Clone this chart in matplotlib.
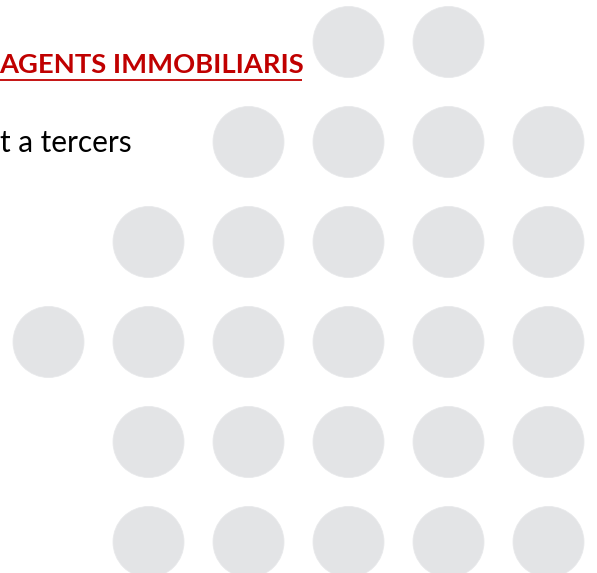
import matplotlib
matplotlib.use("Agg")
import matplotlib.pyplot as plt
from matplotlib.patches import Circle

# Dot grid: column indices present in each row
row_columns = [
    [3, 4],
    [2, 3, 4, 5],
    [1, 2, 3, 4, 5],
    [0, 1, 2, 3, 4, 5],
    [1, 2, 3, 4, 5],
    [1, 2, 3, 4, 5],
]
title_text = "AGENTS IMMOBILIARIS"
body_text = "t a tercers"

W, H = 597, 573
fig = plt.figure(figsize=(W / 100, H / 100), dpi=100)
ax = fig.add_axes([0, 0, 1, 1])
ax.set_xlim(0, W)
ax.set_ylim(H, 0)
ax.axis("off")

x0, y0, pitch, radius = 48.5, 42, 100, 35.5
dot_color = "#E3E4E6"
for r, cols in enumerate(row_columns):
    for c in cols:
        ax.add_patch(Circle((x0 + pitch * c, y0 + pitch * r), radius,
                            facecolor=dot_color, edgecolor="#E8E9EB", lw=0.6))

def fit_text(txt, x, y, target_w, **kw):
    t = ax.text(x, y, txt, **kw)
    fig.canvas.draw()
    r = fig.canvas.get_renderer()
    w = t.get_window_extent(r).width
    t.set_fontsize(t.get_fontsize() * target_w / w)
    return t

red = "#C00000"
fit_text(title_text, -1, 73, 303, fontsize=19, fontweight="bold", color=red,
         family="Lato", ha="left", va="baseline")
ax.plot([0, 302], [79.5, 79.5], color=red, lw=1.3, solid_capstyle="butt")
fit_text(body_text, 0, 152, 132, fontsize=20, color="black",
         family="Lato", ha="left", va="baseline")

fig.savefig("out.png", dpi=100)
